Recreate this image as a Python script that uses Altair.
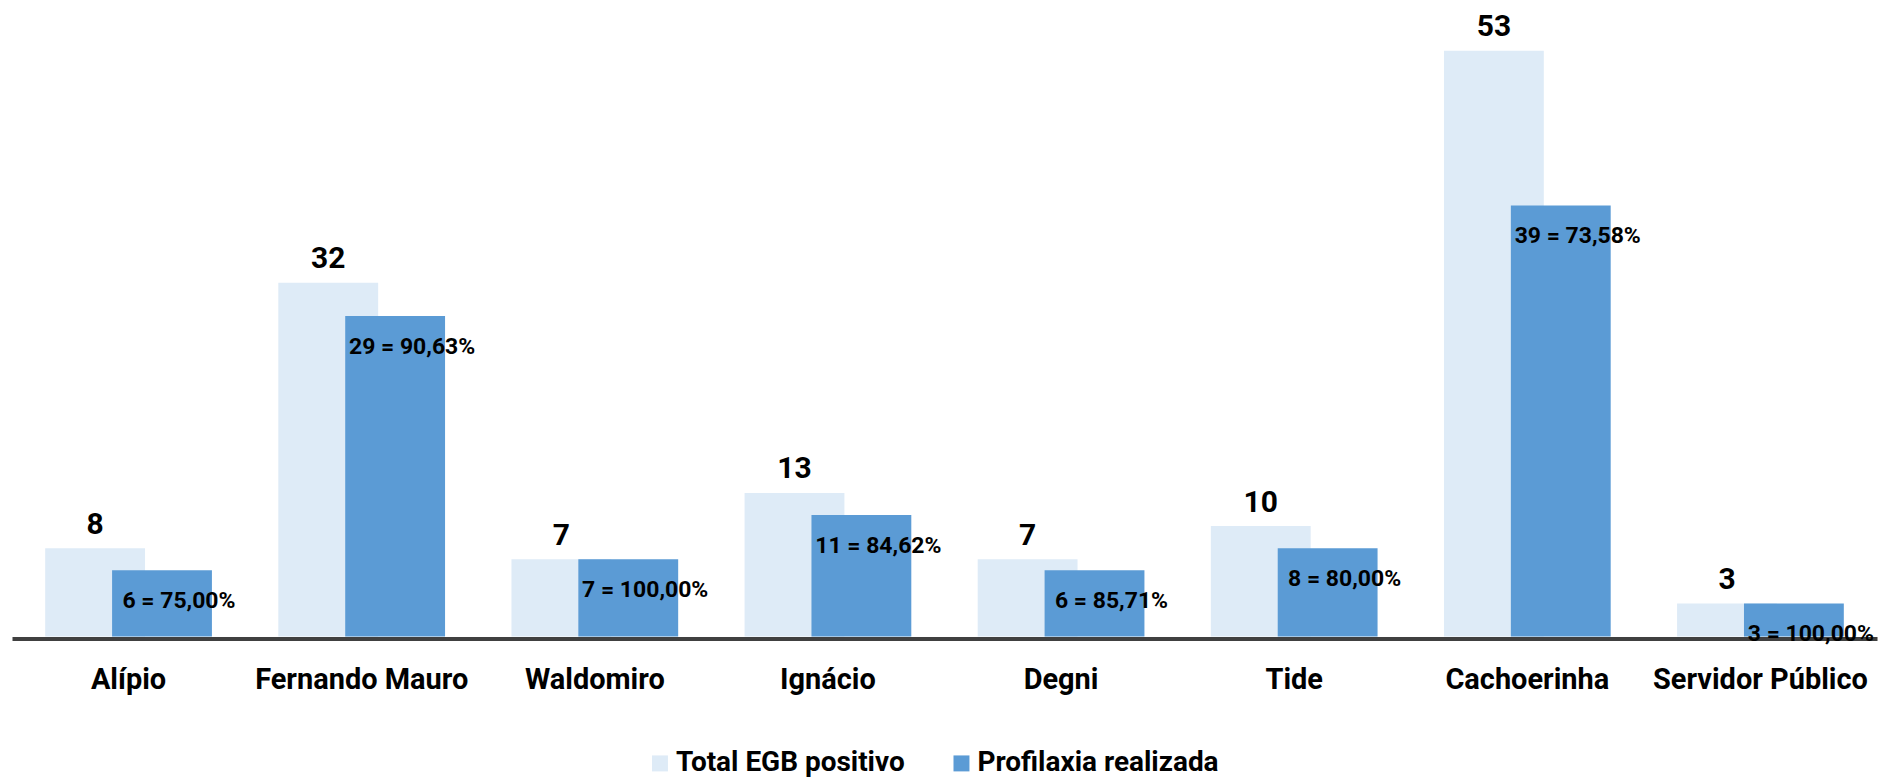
import altair as alt
import pandas as pd

categories = ["Alípio", "Fernando Mauro", "Waldomiro", "Ignácio", "Degni", "Tide", "Cachoerinha", "Servidor Público"]
total_egb = [8, 32, 7, 13, 7, 10, 53, 3]
profilaxia = [6, 29, 7, 11, 6, 8, 39, 3]
percent_labels = ["75,00", "90,63", "100,00", "84,62", "85,71", "80,00", "73,58", "100,00"]
series_names = ["Total EGB positivo", "Profilaxia realizada"]
colors = ["#DEEBF7", "#5B9BD5"]

rows = []
for c, t, p, pc in zip(categories, total_egb, profilaxia, percent_labels):
    rows.append({"cat": c, "series": series_names[0], "value": t, "label": str(t)})
    rows.append({"cat": c, "series": series_names[1], "value": p, "label": f"{p} = {pc}%"})
df = pd.DataFrame(rows)

FONT = "Roboto"

x = alt.X(
    "cat:N",
    sort=categories,
    scale=alt.Scale(paddingInner=0, paddingOuter=0),
    axis=alt.Axis(
        title=None, labelAngle=0, ticks=False, tickSize=0, grid=False,
        domainColor="#404040", domainWidth=4, offset=2,
        labelFontSize=29, labelFont=FONT, labelFontWeight="bold", labelColor="black",
        labelPadding=50, labelBaseline="alphabetic", labelLimit=0,
    ),
)
y = alt.Y("value:Q", scale=alt.Scale(domain=[0, 55], nice=False), axis=None)
color = alt.Color(
    "series:N",
    scale=alt.Scale(domain=series_names, range=colors),
    legend=alt.Legend(
        title=None, orient="none", direction="horizontal", legendX=635, legendY=722,
        symbolType="square", symbolSize=256, symbolStrokeWidth=0,
        labelFontSize=28, labelFont=FONT, labelFontWeight="bold", labelColor="black",
        labelOffset=2, columnPadding=42, padding=0, labelLimit=0,
    ),
)

base = alt.Chart(df)
tot = base.transform_filter(alt.datum.series == series_names[0])
pro = base.transform_filter(alt.datum.series == series_names[1])

bar_tot = tot.mark_bar(width=100, xOffset=-33.5).encode(x=x, y=y, color=color)
bar_pro = pro.mark_bar(width=100, xOffset=33.5).encode(x=x, y=y, color=color)
txt_tot = tot.mark_text(
    baseline="alphabetic", dy=-14.5, xOffset=-33.5, fontSize=30, font=FONT, fontWeight="bold", color="black"
).encode(x=x, y=y, text="label:N")
txt_pro = pro.mark_text(
    baseline="alphabetic", dy=38, xOffset=50.5, fontSize=23, font=FONT, fontWeight="bold", color="black"
).encode(x=x, y=y, text="label:N")

chart = alt.layer(bar_tot, bar_pro, txt_tot, txt_pro).properties(
    width=1868, height=609,
    padding={"left": 4, "top": 20, "right": 10, "bottom": 145},
    autosize="none",
).configure_view(stroke=None)

chart.save("out.html", embed_options={"renderer": "svg", "actions": False})
